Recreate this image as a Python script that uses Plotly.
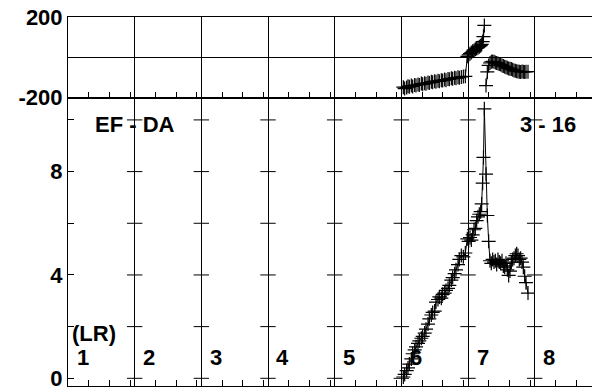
import plotly.graph_objects as go

# day boundaries and the labels written inside each day
days = [1, 2, 3, 4, 5, 6, 7, 8]
day_labels = ["1", "2", "3", "4", "5", "6", "7", "8"]
left_title = "EF - DA"
right_title = "3 - 16"
unit_label = "(LR)"

# lower panel ticks
lr_ticks = [0, 2, 4, 6, 8, 10]
lr_ticktext = ["0", "", "4", "", "8", ""]
# upper panel ticks
ph_ticks = [-200, 200]
ph_ticktext = ["-200", "200"]

# day 6 run
x6 = [6.03, 6.05, 6.08, 6.10, 6.12, 6.15, 6.17, 6.20, 6.22, 6.25,
      6.27, 6.30, 6.32, 6.35, 6.37, 6.40, 6.42, 6.45, 6.47, 6.50,
      6.52, 6.55, 6.57, 6.60, 6.62, 6.65, 6.67, 6.70, 6.72, 6.75,
      6.77, 6.80, 6.82, 6.85, 6.87, 6.90, 6.93, 6.96]
lr6 = [0.05, 0.15, 0.30, 0.40, 0.55, 0.75, 0.95, 1.10, 1.22, 1.35,
       1.45, 1.55, 1.62, 1.75, 1.90, 2.10, 2.30, 2.45, 2.55, 2.60,
       2.95, 3.05, 3.15, 3.10, 3.25, 3.30, 3.40, 3.48, 3.60, 3.80,
       3.90, 4.05, 4.20, 4.40, 4.60, 4.75, 4.70, 4.85]
ph6 = [-148, -155, -150, -143, -146, -140, -144, -137, -139, -134,
       -137, -130, -133, -128, -131, -125, -127, -121, -124, -118,
       -121, -116, -119, -113, -115, -110, -113, -107, -109, -104,
       -106, -101, -103, -99, -101, -97, -95, -94]

# day 7 run, before the peak
x7a = [6.99, 7.01, 7.03, 7.05, 7.07, 7.09, 7.11, 7.13, 7.15, 7.17,
       7.19, 7.205, 7.22, 7.232, 7.245]
lr7a = [5.40, 5.30, 5.45, 5.35, 5.55, 5.75, 5.80, 6.10, 6.25, 6.35,
        6.45, 6.75, 7.55, 8.55, 10.43]
ph7a = [5, 12, 18, 24, 30, 34, 40, 44, 48, 53, 58, 64, 78, 103, 158]

# day 7 run, after the peak
x7b = [7.27, 7.29, 7.31, 7.33, 7.35, 7.37, 7.39, 7.41, 7.43, 7.45,
       7.47, 7.49, 7.51, 7.53, 7.55, 7.57, 7.59, 7.61, 7.63, 7.65,
       7.67, 7.69, 7.71, 7.73, 7.75, 7.77, 7.79, 7.81, 7.83, 7.85,
       7.87, 7.90]
lr7b = [7.9, 6.3, 5.3, 4.55, 4.45, 4.6, 4.5, 4.55, 4.4, 4.6,
        4.5, 4.45, 4.55, 4.35, 4.3, 4.45, 4.2, 3.98, 4.15, 4.5,
        4.6, 4.65, 4.75, 4.82, 4.75, 4.6, 4.65, 4.5, 4.3, 3.95,
        3.7, 3.3]
ph7b = [-140, -72, -40, -28, -22, -20, -22, -25, -28, -30,
        -33, -36, -40, -43, -46, -49, -52, -55, -56, -58,
        -62, -65, -67, -69, -70, -71, -72, -70, -71, -72,
        -71, -71]

FONT = dict(family="Liberation Sans, Arial, sans-serif", size=22, color="black", weight="bold")
mark = dict(symbol="cross-thin-open", size=10, color="black", line=dict(width=1.2, color="black"))

fig = go.Figure()

# lower panel: whole run is one connected line
fig.add_trace(go.Scatter(
    x=x6 + x7a + x7b, y=lr6 + lr7a + lr7b,
    mode="lines+markers", line=dict(color="black", width=1),
    marker=mark, xaxis="x", yaxis="y", showlegend=False))

# upper panel: broken where the phase wraps
fig.add_trace(go.Scatter(
    x=x6 + x7a + [None] + x7b, y=ph6 + ph7a + [None] + ph7b,
    mode="lines+markers", line=dict(color="black", width=1),
    marker=mark, xaxis="x2", yaxis="y2", showlegend=False, connectgaps=False))

# y ticks repeated on every day boundary in the lower panel
gx = [d for d in days[1:] for t in lr_ticks]
gy = [t for d in days[1:] for t in lr_ticks]
fig.add_trace(go.Scatter(
    x=gx, y=gy, mode="markers", hoverinfo="skip", showlegend=False,
    marker=dict(symbol="line-ew-open", size=11, color="black",
                line=dict(width=1, color="black")),
    xaxis="x", yaxis="y"))

minor_x = [d + f for d in days for f in (0.31, 0.62, 0.93)]
xcommon = dict(range=[1, 8.86], tickvals=days, showticklabels=False, ticks="",
               showgrid=True, gridcolor="black", gridwidth=1,
               showline=True, linecolor="black", linewidth=1, mirror=True,
               zeroline=False, automargin=False,
               minor=dict(tickmode="array", tickvals=minor_x, ticks="inside",
                          ticklen=6, tickcolor="black", showgrid=False))

split = 0.7813
fig.update_layout(
    width=592, height=392,
    margin=dict(l=68, r=0, t=17, b=6),
    paper_bgcolor="white", plot_bgcolor="white",
    xaxis=dict(xcommon, domain=[0, 1], anchor="y"),
    xaxis2=dict(xcommon, domain=[0, 1], anchor="y2", matches="x"),
    yaxis=dict(domain=[0, split], range=[-0.298, 10.86], tickvals=lr_ticks,
               ticktext=lr_ticktext, ticks="inside", ticklen=6, tickcolor="black",
               showgrid=False, zeroline=False, showline=True, linecolor="black",
               tickfont=FONT, anchor="x", automargin=False),
    yaxis2=dict(domain=[split, 1], range=[-200, 200], tickvals=ph_ticks,
                ticktext=ph_ticktext, ticks="", showgrid=False, zeroline=True,
                zerolinecolor="black", zerolinewidth=1, showline=True,
                linecolor="black", tickfont=FONT, anchor="x2", automargin=False),
)

annotations = [
    dict(x=2.0, y=9.84, text=left_title),
    dict(x=8.20, y=9.84, text=right_title),
    dict(x=1.03, y=1.75, text=unit_label, xanchor="left"),
]
for d, lab in zip(days, day_labels):
    annotations.append(dict(x=d + 0.22, y=0.82, text=lab))
for a in annotations:
    a.setdefault("xanchor", "center")
    fig.add_annotation(xref="x", yref="y", yanchor="middle", showarrow=False,
                       font=FONT, **a)

# page body has a default margin; drop it so the chart sits at the corner
fig.write_html("out.html", config={"displayModeBar": False},
               post_script="document.body.style.margin='0';")
